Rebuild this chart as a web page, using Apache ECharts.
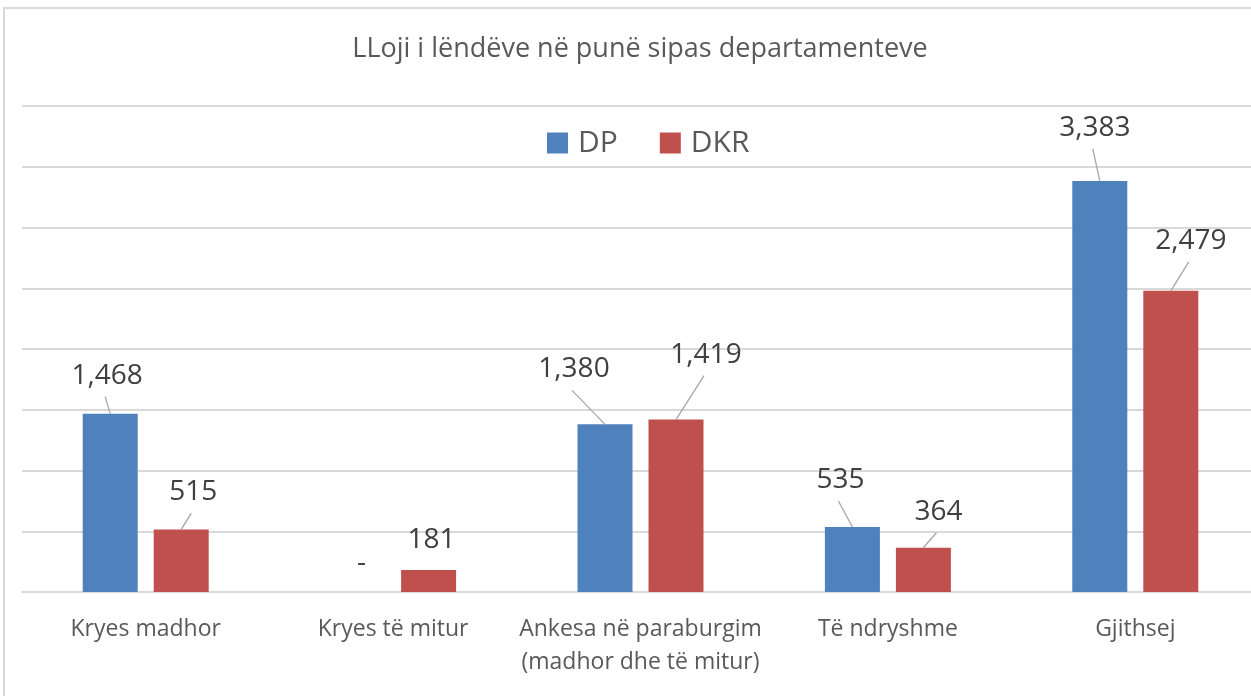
<!DOCTYPE html>
<html>
<head>
<meta charset="utf-8">
<title>LLoji i lëndëve në punë sipas departamenteve</title>
<script src="https://cdn.jsdelivr.net/npm/echarts@6/dist/echarts.min.js"></script>
<style>
  html, body { margin: 0; padding: 0; background: #fff; overflow: hidden; }
  #chart { width: 1262px; height: 696px; }
</style>
</head>
<body>
<div id="chart"></div>
<script>
// kategoritë
const categories = [
  "Kryes madhor",
  "Kryes të mitur",
  "Ankesa në paraburgim\n(madhor dhe të mitur)",
  "Të ndryshme",
  "Gjithsej",
];
// vlerat për secilin departament
const dpValues = [1468, 0, 1380, 535, 3383];
const dkrValues = [515, 181, 1419, 364, 2479];

// zhvendosja e etiketave (dx, dy nga maja e shtyllës)
const dpShift = [[-3, -38], [4, -29], [-31, -55], [-12, -47], [-5, -53]];
const dkrShift = [[12, -37], [3, -30], [30, -65], [15, -36], [20, -50]];
// vija udhëzuese
const dpLine = [true, false, true, true, true];
const dkrLine = [true, false, true, true, true];

const font = "Open Sans";
const barWidth = 55;
const barGapPx = 16;
const sideOffset = (barWidth + barGapPx) / 2;

const fmt = (v) => (v === 0 ? "-" : v.toLocaleString("en-US"));

const layoutFor = (shift) => (params) => {
  const r = params.rect;
  const s = shift[params.dataIndex];
  return {
    x: r.x + r.width / 2 + s[0],
    y: r.y + s[1],
    align: "center",
    verticalAlign: "middle",
  };
};

// të dhënat për vijat udhëzuese: [kategoria, vlera, ana]
const guideData = [];
dpValues.forEach((v, i) => {
  if (dpLine[i]) guideData.push([i, v, 0]);
});
dkrValues.forEach((v, i) => {
  if (dkrLine[i]) guideData.push([i, v, 1]);
});

const renderGuide = (params, api) => {
  const idx = api.value(0);
  const side = api.value(2);
  const p = api.coord([idx, api.value(1)]);
  const cx = p[0] + (side === 0 ? -sideOffset : sideOffset);
  const s = side === 0 ? dpShift[idx] : dkrShift[idx];
  const ex = cx + s[0] - 2;
  const ey = p[1] + s[1] + 21;
  return {
    type: "line",
    shape: { x1: cx, y1: p[1], x2: ex, y2: ey },
    style: { stroke: "#a6a6a6", lineWidth: 1.3 },
  };
};

const myChart = echarts.init(document.getElementById("chart"));

const barLabel = {
  show: true,
  position: "top",
  fontFamily: font,
  fontSize: 28,
  color: "#404040",
  formatter: (p) => fmt(p.value),
};

const option = {
  animation: false,
  textStyle: { fontFamily: font },
  graphic: [
    {
      type: "rect",
      shape: { x: 4, y: 8, width: 1270, height: 720 },
      style: { fill: "none", stroke: "#d9d9d9", lineWidth: 2 },
      silent: true,
      z: -1,
    },
  ],
  title: {
    text: "LLoji i lëndëve në punë sipas departamenteve",
    left: 635,
    top: 31,
    textAlign: "center",
    textStyle: {
      fontFamily: font,
      fontSize: 27,
      fontWeight: "normal",
      color: "#595959",
    },
  },
  legend: {
    left: 547,
    top: 128,
    padding: 0,
    itemWidth: 21,
    itemHeight: 21,
    itemGap: 42,
    icon: "rect",
    textStyle: {
      fontFamily: font,
      fontSize: 30,
      color: "#595959",
      padding: [0, 0, 0, 5],
    },
    data: ["DP", "DKR"],
  },
  grid: {
    left: 22,
    top: 106,
    width: 1237,
    height: 486,
    containLabel: false,
  },
  xAxis: {
    type: "category",
    data: categories,
    axisTick: { show: false },
    axisLine: { lineStyle: { color: "#d9d9d9", width: 2 } },
    axisLabel: {
      interval: 0,
      margin: 21,
      fontFamily: font,
      fontSize: 23,
      lineHeight: 33,
      color: "#595959",
    },
  },
  yAxis: {
    type: "value",
    min: 0,
    max: 4000,
    interval: 500,
    axisLabel: { show: false },
    axisLine: { show: false },
    axisTick: { show: false },
    splitLine: { lineStyle: { color: "#d9d9d9", width: 2 } },
  },
  series: [
    {
      name: "DP",
      type: "bar",
      barWidth: barWidth,
      barGap: (barGapPx / barWidth) * 100 + "%",
      itemStyle: { color: "#4F81BD" },
      label: barLabel,
      labelLayout: layoutFor(dpShift),
      data: dpValues,
    },
    {
      name: "DKR",
      type: "bar",
      barWidth: barWidth,
      barGap: (barGapPx / barWidth) * 100 + "%",
      itemStyle: { color: "#C0504D" },
      label: barLabel,
      labelLayout: layoutFor(dkrShift),
      data: dkrValues,
    },
    {
      name: "guides",
      type: "custom",
      renderItem: renderGuide,
      silent: true,
      z: 3,
      data: guideData,
    },
  ],
};

option && myChart.setOption(option);
</script>
</body>
</html>
